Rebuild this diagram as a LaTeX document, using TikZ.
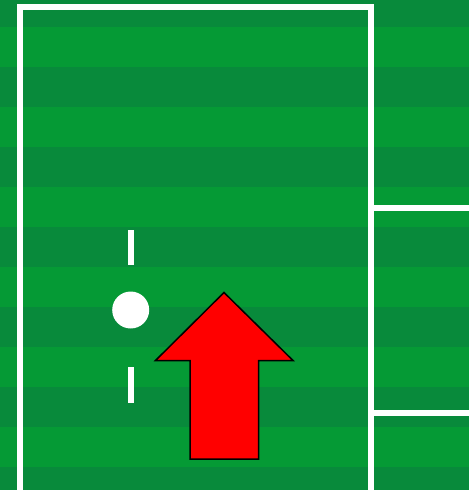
\documentclass[tikz,border=0pt]{standalone}
\usepackage{tikz}
\definecolor{grasslight}{HTML}{059A35}
\definecolor{grassdark}{HTML}{088A3B}
\definecolor{arrowred}{HTML}{FF0000}

\begin{document}
\begin{tikzpicture}[x=1pt,y=-1pt]
  \path[use as bounding box] (0,0) rectangle (469,490);
  \clip (0,0) rectangle (469,490);

  % Mown stripes.
  \fill[grasslight] (0,0) rectangle (469,490);
  \foreach \yy in {-13,67,...,467}{
    \fill[grassdark] (0,\yy) rectangle (469,\yy+40);
  }

  % Pitch markings.
  \begin{scope}[draw=white,line width=6pt]
    \draw (20,500) -- (20,7) -- (370.5,7) -- (370.5,500);
    \draw (370.5,208) -- (480,208);
    \draw (370.5,412.5) -- (480,412.5);
    \draw (131,230) -- (131,265);
    \draw (131,367) -- (131,402.5);
  \end{scope}
  \fill[white] (130.7,310) circle[radius=18.5];

  % Direction of play.
  \draw[fill=arrowred,line width=1.5pt,line join=miter]
    (224,292.5) -- (293,360.5) -- (258.5,360.5) -- (258.5,459)
    -- (190,459) -- (190,360.5) -- (155.5,360.5) -- cycle;
\end{tikzpicture}
\end{document}
